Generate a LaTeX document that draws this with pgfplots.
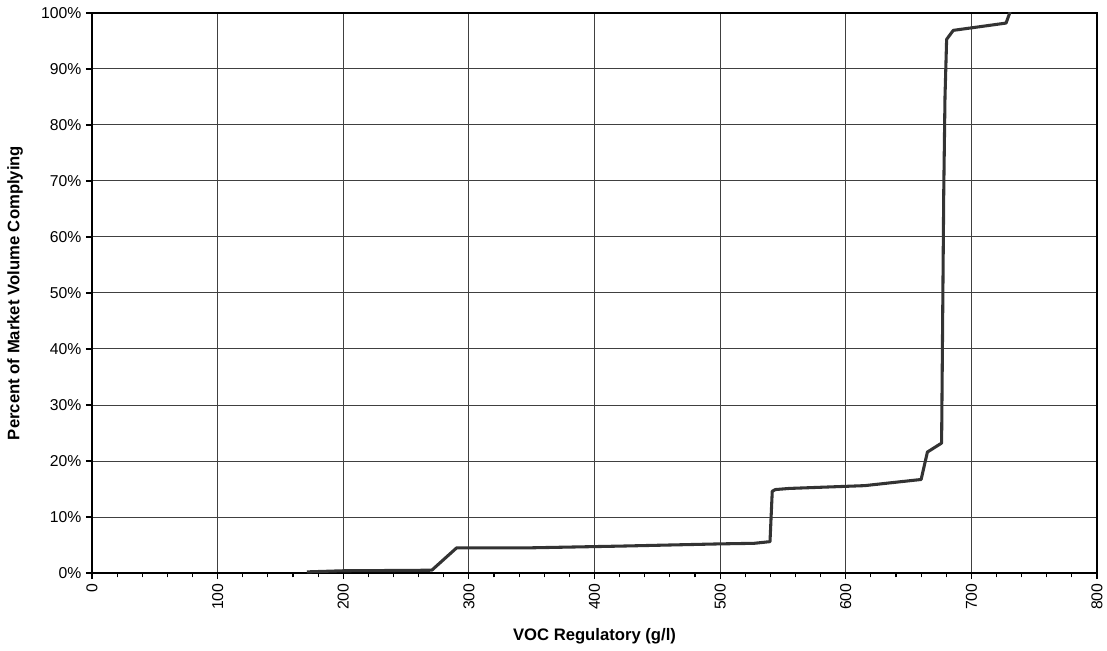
\documentclass[border=0pt]{standalone}
\usepackage{pgfplots}
\pgfplotsset{compat=1.18}
\usepackage{fontspec}
\setmainfont{Liberation Sans}
\begin{document}
\begin{tikzpicture}[x=1pt,y=1pt]
\begin{axis}[
  scale only axis,
  width=753.75pt, height=420pt,
  xmin=0, xmax=800, ymin=0, ymax=100,
  xtick={0,100,...,800},
  minor x tick num=4,
  ytick={0,10,...,100},
  tick align=outside,
  xtick pos=bottom, ytick pos=left,
  major tick length=4.5pt, minor tick length=3.2pt,
  every tick/.style={black, line width=0.9pt},
  every minor tick/.style={black, line width=0.9pt},
  axis line style={black, line width=1.1pt},
  grid=major,
  major grid style={black!75, line width=0.75pt},
  /pgf/number format/assume math mode=true,
  ticklabel style={font=\fontsize{11.8}{13}\selectfont},
  yticklabel={\pgfmathprintnumber{\tick}\%},
  x tick label style={rotate=90, anchor=east},
  xlabel={VOC Regulatory (g/l)},
  ylabel={Percent of Market Volume Complying},
  every axis x label/.style={at={(axis description cs:0.5,-0.1125)}, anchor=center, font=\fontsize{12.5}{14}\selectfont\bfseries},
  every axis y label/.style={at={(axis description cs:-0.0766,0.5)}, rotate=90, anchor=center, font=\fontsize{12.5}{14}\selectfont\bfseries},
  clip=true,
]
\addplot[color=black!80, line width=2.3pt, line join=round] coordinates {
(171,0.2) (200,0.4) (240,0.45) (270.5,0.5) (290.3,4.5) (350,4.5) (420,4.8) (500,5.2) (527,5.3) (539.7,5.6)
(541.5,14.6) (544,14.9) (555,15.1) (615,15.6) (660,16.7) (665,21.6) (676.3,23.2)
(678,68) (679,85) (680.3,95.3) (685.6,96.9) (727.6,98.2) (730.5,100) (731,100.5)
};
\end{axis}
\pgfresetboundingbox
\path[use as bounding box] ([xshift=-69pt,yshift=-57.75pt]current axis.south west) rectangle ([xshift=7.5pt,yshift=9.75pt]current axis.north east);
\end{tikzpicture}
\end{document}
